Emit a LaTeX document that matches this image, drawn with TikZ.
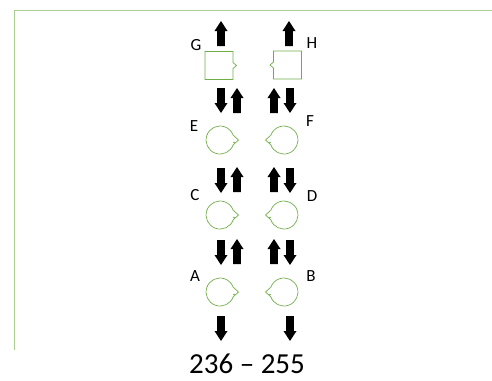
\documentclass[tikz,border=0pt]{standalone}
\usepackage{fontspec}
\setmainfont{Carlito}
\definecolor{framegreen}{RGB}{170,208,145}
\definecolor{shapegreen}{RGB}{112,173,71}
\tikzset{
  upblk/.pic={\fill[black] (0,0) -- (6.5,10) -- (3.8,10) -- (3.8,25) -- (-3.8,25) -- (-3.8,10) -- (-6.5,10) -- cycle;},
  downblk/.pic={\fill[black] (0,0) -- (6.5,-10) -- (3.8,-10) -- (3.8,-25) -- (-3.8,-25) -- (-3.8,-10) -- (-6.5,-10) -- cycle;},
  loopR/.pic={\draw[shapegreen,line width=0.7pt] (13.2,4.8) arc (20:340:14) -- (18.5,0) -- cycle;
              \fill[shapegreen] (14,2.5) circle (0.8);},
  boxR/.pic={\draw[shapegreen,line width=0.7pt] (14,3) -- (14,14) -- (-14,14) -- (-14,-14) -- (14,-14) -- (14,-3) -- (17.5,0) -- cycle;},
  lbl/.style={font=\fontsize{17}{17}\selectfont, inner sep=0pt},
}
\begin{document}
\begin{tikzpicture}[x=1pt,y=-1pt]
\useasboundingbox (0,0) rectangle (492,380);
\draw[framegreen,line width=1pt] (14,350) -- (14,10) -- (492,10);
% shapes
\coordinate (G) at (219,65.5);
\coordinate (H) at (287.5,65);
\coordinate (E) at (220,140);
\coordinate (F) at (284,140);
\coordinate (C) at (220,215);
\coordinate (D) at (284,215);
\coordinate (A) at (220,292);
\coordinate (B) at (284,292);
\pic at (G) {boxR};
\pic[xscale=-1] at (H) {boxR};
\pic at (E) {loopR};
\pic[xscale=-1] at (F) {loopR};
\pic at (C) {loopR};
\pic[xscale=-1] at (D) {loopR};
\pic at (A) {loopR};
\pic[xscale=-1] at (B) {loopR};
% labels
\node[lbl] (lG) at (196,45) {G};
\node[lbl] (lH) at (312,43) {H};
\node[lbl] (lE) at (194,126) {E};
\node[lbl] (lF) at (310,121) {F};
\node[lbl] (lC) at (195,195) {C};
\node[lbl] (lD) at (312,196) {D};
\node[lbl] (lA) at (195,276) {A};
\node[lbl] (lB) at (311,276) {B};
% top arrows
\pic at (221,21) {upblk};
\pic at (289,21) {upblk};
% pairs
\foreach \yt/\yb in {88/113,167/193,239/265}{
  \pic at (221,\yb) {downblk};
  \pic at (237,\yt) {upblk};
  \pic at (274,\yt) {upblk};
  \pic at (290,\yb) {downblk};
}
% bottom arrows
\pic at (221,341) {downblk};
\pic at (290,341) {downblk};
\node[font=\fontsize{29}{29}\selectfont, inner sep=0pt] (range) at (247,364) {236 – 255};
\end{tikzpicture}
\end{document}
